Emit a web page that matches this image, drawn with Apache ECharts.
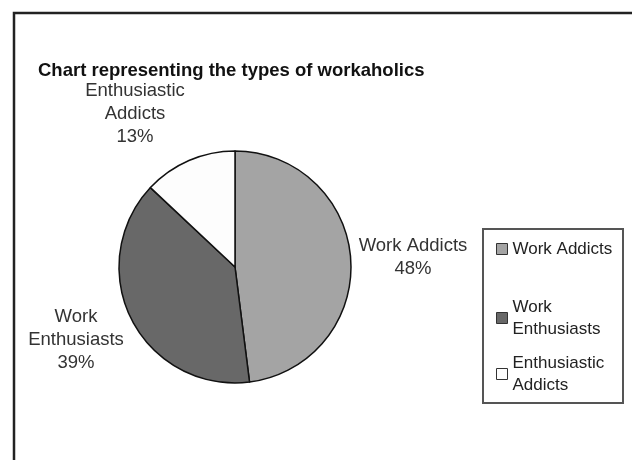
<!DOCTYPE html>
<html>
<head>
<meta charset="utf-8">
<script src="https://cdn.jsdelivr.net/npm/echarts@6/dist/echarts.min.js"></script>
<style>
  html, body { margin: 0; padding: 0; background: #fff; }
  #chart { width: 632px; height: 460px; }
</style>
</head>
<body>
<div id="chart"></div>
<script>
// data
const categories = ['Work Addicts', 'Work Enthusiasts', 'Enthusiastic Addicts'];
const shares = [48, 39, 13];
const wrappedNames = ['Work Addicts', 'Work\nEnthusiasts', 'Enthusiastic\nAddicts'];
const sliceColors = ['#a4a4a4', '#686868', '#fdfdfd'];

// where each slice label sits (text block centre)
const labelSpots = [[413, 257], [76, 340], [135, 114]];

const LH = 22; // legend line height

const chart = echarts.init(document.getElementById('chart'));

const option = {
  animation: false,
  backgroundColor: '#fff',
  textStyle: { fontFamily: 'Liberation Sans, Arial, sans-serif' },
  title: {
    text: 'Chart representing the types of workaholics',
    left: 33,
    top: 56,
    textStyle: { fontSize: 18.5, fontWeight: 'bold', color: '#111' }
  },
  graphic: [
    { // outer frame, cut off at right / bottom
      type: 'rect',
      shape: { x: 14, y: 13, width: 700, height: 500 },
      style: { fill: 'none', stroke: '#222', lineWidth: 2.5 },
      silent: true
    },
    { // legend box
      type: 'rect',
      shape: { x: 483, y: 229, width: 140, height: 174 },
      style: { fill: 'none', stroke: '#555', lineWidth: 2 },
      silent: true
    }
  ],
  legend: {
    orient: 'vertical',
    left: 496,
    top: 203,
    itemWidth: 11,
    itemHeight: 11,
    itemGap: -10,
    icon: 'rect',
    padding: 0,
    itemStyle: { borderColor: '#333', borderWidth: 1 },
    textStyle: { fontSize: 17, lineHeight: LH, color: '#222' },
    formatter: function (name) {
      return wrappedNames[categories.indexOf(name)];
    },
    data: categories.map(function (c, i) {
      return {
        name: c,
        textStyle: { padding: i === 0 ? [35, 0, 35, 0] : [LH, 0, 0, 0] }
      };
    })
  },
  series: [{
    type: 'pie',
    center: [235, 267],
    radius: 116,
    startAngle: 90,
    clockwise: true,
    itemStyle: { borderColor: '#111', borderWidth: 1.5 },
    label: {
      show: true,
      position: 'outside',
      fontSize: 18.5,
      lineHeight: 23,
      color: '#333',
      align: 'center',
      overflow: 'none',
      formatter: function (p) {
        return wrappedNames[p.dataIndex] + '\n' + p.value + '%';
      }
    },
    labelLine: { show: false },
    labelLayout: function (params) {
      const s = labelSpots[params.dataIndex];
      return { x: s[0], y: s[1], align: 'center', verticalAlign: 'middle' };
    },
    emphasis: { disabled: true },
    data: categories.map(function (c, i) {
      return { name: c, value: shares[i], itemStyle: { color: sliceColors[i] } };
    })
  }]
};

chart.setOption(option);
</script>
</body>
</html>
